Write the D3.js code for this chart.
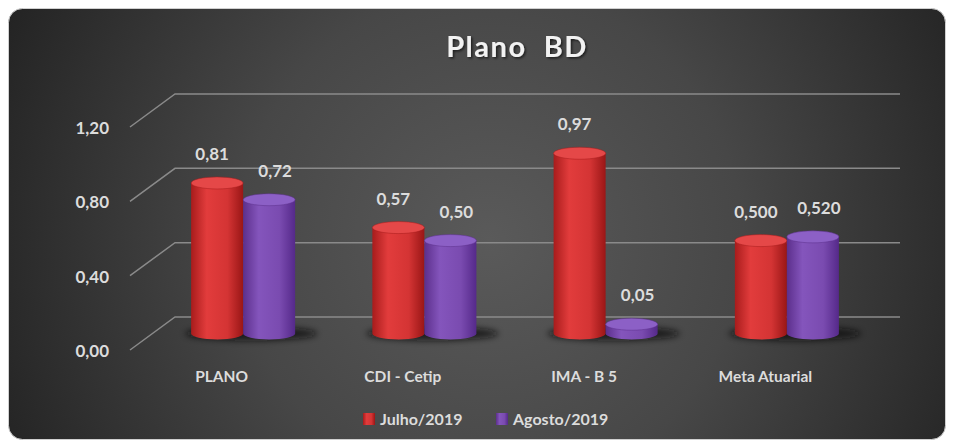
<!DOCTYPE html>
<html>
<head>
<meta charset="utf-8">
<script src="https://cdn.jsdelivr.net/npm/d3@7"></script>
<style>
  html, body { margin: 0; padding: 0; background: #ffffff; }
  svg { display: block; }
</style>
</head>
<body>
<div id="chart"></div>
<script>
// data
const categories = ['PLANO', 'CDI - Cetip', 'IMA - B 5', 'Meta Atuarial'];
const series = ['Julho/2019', 'Agosto/2019'];
const julho = [0.81, 0.57, 0.97, 0.5];
const agosto = [0.72, 0.5, 0.05, 0.52];
const labelDecimals = [2, 2, 2, 3];
const yTicks = [0, 0.4, 0.8, 1.2];
const title = 'Plano\u00a0\u00a0BD';

const width = 954;
const height = 446;
const font = 'Lato, "Open Sans", sans-serif';
const textColor = '#dcdcdc';

// 3d depth offset of the back wall relative to the front edge
const depthX = 45;
const depthY = -33;
const midX = depthX / 2;
const midY = depthY / 2;

const colors = {
    'Julho/2019': { body: ['#a81c1c', '#e23c3c', '#d43434', '#9a1616'], top: '#e54848' },
    'Agosto/2019': { body: ['#5c2f8c', '#8455bc', '#7a4bb0', '#55298a'], top: '#8c60c6' },
};

const svg = d3
    .select('#chart')
    .append('svg')
    .attr('width', width)
    .attr('height', height)
    .attr('viewBox', [0, 0, width, height]);

const defs = svg.append('defs');

defs.append('radialGradient')
    .attr('id', 'bg-gradient')
    .attr('gradientUnits', 'userSpaceOnUse')
    .attr('cx', 490)
    .attr('cy', 240)
    .attr('r', 560)
    .call((g) => {
        g.append('stop').attr('offset', '0%').attr('stop-color', '#5a5a5a');
        g.append('stop').attr('offset', '45%').attr('stop-color', '#474747');
        g.append('stop').attr('offset', '100%').attr('stop-color', '#202020');
    });

series.forEach((s, k) => {
    defs.append('linearGradient')
        .attr('id', `body-${k}`)
        .attr('x1', '0%')
        .attr('x2', '100%')
        .call((g) => {
            const c = colors[s].body;
            g.append('stop').attr('offset', '0%').attr('stop-color', c[0]);
            g.append('stop').attr('offset', '30%').attr('stop-color', c[1]);
            g.append('stop').attr('offset', '70%').attr('stop-color', c[2]);
            g.append('stop').attr('offset', '100%').attr('stop-color', c[3]);
        });
});

defs.append('filter')
    .attr('id', 'blur')
    .attr('x', '-50%')
    .attr('y', '-50%')
    .attr('width', '200%')
    .attr('height', '200%')
    .append('feGaussianBlur')
    .attr('stdDeviation', 3);

defs.append('filter')
    .attr('id', 'text-shadow')
    .append('feDropShadow')
    .attr('dx', 1.5)
    .attr('dy', 1.5)
    .attr('stdDeviation', 1)
    .attr('flood-color', '#000')
    .attr('flood-opacity', 0.6);

// BACKGROUND
svg.append('rect')
    .attr('x', 8.5)
    .attr('y', 8.5)
    .attr('width', 937)
    .attr('height', 431)
    .attr('rx', 14)
    .attr('fill', 'url(#bg-gradient)')
    .attr('stroke', '#d0d0d0');

// scales (front edge of the floor)
const y = d3.scaleLinear([0, 1.2], [350, 127]);
const x0 = d3.scaleBand(categories, [130, 855]).paddingInner(0.426).paddingOuter(0.213);
const x1 = d3.scaleBand(series, [0, x0.bandwidth()]);

// GRIDLINES: diagonal side wall + back wall
const grid = svg.append('g').attr('stroke', '#8a8a8a').attr('stroke-width', 1.5).attr('fill', 'none');
grid.selectAll('path')
    .data(yTicks)
    .join('path')
    .attr('d', (d) => `M${x0.range()[0]},${y(d)} L${x0.range()[0] + depthX},${y(d) + depthY} L${x0.range()[1] + depthX},${y(d) + depthY}`);

// Y AXIS LABELS
svg.append('g')
    .attr('font-family', font)
    .attr('font-weight', 700)
    .attr('font-size', 17)
    .attr('fill', textColor)
    .attr('text-anchor', 'end')
    .selectAll('text')
    .data(yTicks)
    .join('text')
    .attr('x', 109)
    .attr('y', (d) => y(d) + 1)
    .attr('dy', '0.35em')
    .text((d) => d3.format('.2f')(d).replace('.', ','));

// bar records
const bars = [];
categories.forEach((c, i) => {
    [julho, agosto].forEach((vals, k) => {
        bars.push({ cat: c, i, k, s: series[k], v: vals[i] });
    });
});

const rx = x1.bandwidth() / 2;
const ry = 6;
const cx = (b) => x0(b.cat) + x1(b.s) + rx + midX;
const yTop = (b) => y(b.v) + midY;
const yBot = y(0) + midY;

// FLOOR SHADOWS
svg.append('g')
    .attr('filter', 'url(#blur)')
    .attr('fill', '#111')
    .attr('opacity', 0.75)
    .selectAll('ellipse')
    .data(categories)
    .join('ellipse')
    .attr('cx', (c) => x0(c) + x0.bandwidth() / 2 + midX + 8)
    .attr('cy', yBot)
    .attr('rx', x0.bandwidth() / 2 + 14)
    .attr('ry', 7);

// CYLINDERS
const cyl = svg.append('g').selectAll('g').data(bars).join('g');

cyl.append('path')
    .attr('fill', (b) => `url(#body-${b.k})`)
    .attr('d', (b) => {
        const l = cx(b) - rx;
        const r = cx(b) + rx;
        return `M${l},${yTop(b)} L${l},${yBot} A${rx},${ry} 0 0 0 ${r},${yBot} L${r},${yTop(b)} Z`;
    });

cyl.append('ellipse')
    .attr('cx', cx)
    .attr('cy', yTop)
    .attr('rx', rx)
    .attr('ry', ry)
    .attr('fill', (b) => colors[b.s].top)
    .attr('stroke', (b) => colors[b.s].body[0])
    .attr('stroke-opacity', 0.5)
    .attr('stroke-width', 1);

// VALUE LABELS
svg.append('g')
    .attr('font-family', font)
    .attr('font-weight', 700)
    .attr('font-size', 17)
    .attr('fill', textColor)
    .attr('text-anchor', 'middle')
    .selectAll('text')
    .data(bars)
    .join('text')
    .attr('x', (b) => cx(b) + (b.k === 0 ? -5 : 6))
    .attr('y', (b) => yTop(b) - 23)
    .text((b) => d3.format(`.${labelDecimals[b.i]}f`)(b.v).replace('.', ','));

// X AXIS LABELS
svg.append('g')
    .attr('font-family', font)
    .attr('font-weight', 700)
    .attr('font-size', 15.5)
    .attr('fill', textColor)
    .attr('text-anchor', 'middle')
    .selectAll('text')
    .data(categories)
    .join('text')
    .attr('x', (c) => x0(c) + x0.bandwidth() / 2 + 1)
    .attr('y', 377)
    .attr('dy', '0.35em')
    .text((c) => c);

// TITLE
svg.append('text')
    .attr('x', 517)
    .attr('y', 47)
    .attr('dy', '0.35em')
    .attr('text-anchor', 'middle')
    .attr('font-family', font)
    .attr('font-weight', 700)
    .attr('font-size', 29)
    .attr('letter-spacing', 1.5)
    .attr('fill', '#f2f2f2')
    .attr('filter', 'url(#text-shadow)')
    .text(title);

// LEGEND
const legendX = d3.scaleOrdinal(series, [363, 496]);
const legend = svg.append('g')
    .attr('font-family', font)
    .attr('font-weight', 700)
    .attr('font-size', 16)
    .attr('fill', textColor)
    .selectAll('g')
    .data(series)
    .join('g')
    .attr('transform', (s) => `translate(${legendX(s)},419)`);

legend.append('rect')
    .attr('x', 0)
    .attr('y', -6)
    .attr('width', 12)
    .attr('height', 12)
    .attr('fill', (s, k) => `url(#body-${k})`);

legend.append('text')
    .attr('x', 17)
    .attr('dy', '0.35em')
    .text((s) => s);
</script>
</body>
</html>
